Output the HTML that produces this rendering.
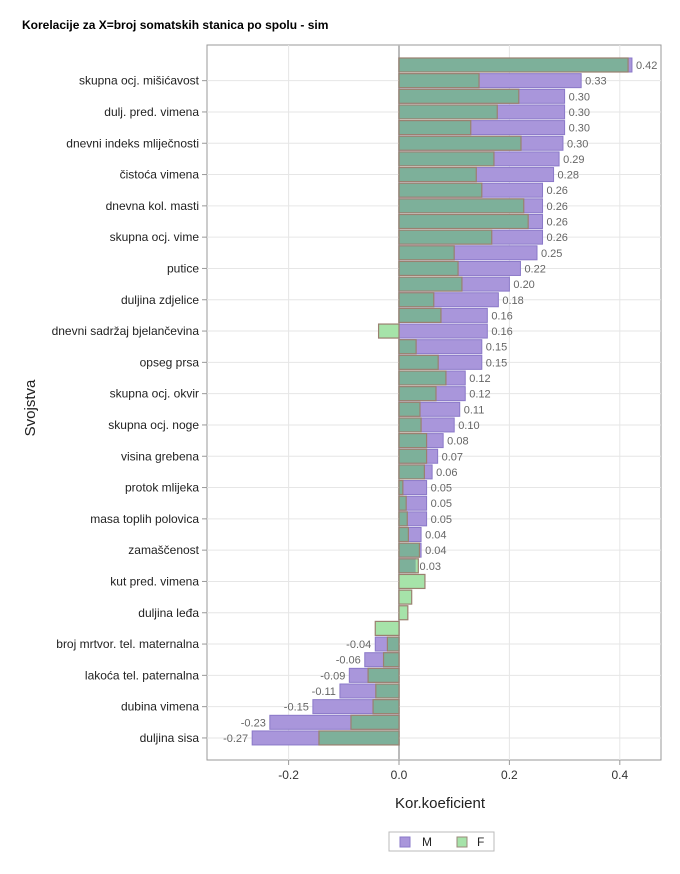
<!DOCTYPE html>
<html><head><meta charset="utf-8"><style>
body{margin:0;background:#fff;}
svg text{font-family:"Liberation Sans",Arial,sans-serif;}
</style></head><body>
<svg width="680" height="869" xmlns="http://www.w3.org/2000/svg">
<text x="22" y="29" font-size="12" font-weight="bold" fill="#000">Korelacije za X=broj somatskih stanica po spolu - sim</text>
<g id="plot"></g>
<text transform="translate(35,408) rotate(-90)" text-anchor="middle" font-size="15" fill="#222">Svojstva</text>
<text x="440" y="808" text-anchor="middle" font-size="15" fill="#222">Kor.koeficient</text>
<g>
<rect x="389" y="832" width="105" height="19" fill="#fff" stroke="#bbb"/>
<rect x="400" y="837" width="10" height="10" fill="#a996db" stroke="#8a78c8"/>
<text x="422" y="846" font-size="12" fill="#222">M</text>
<rect x="457" y="837" width="10" height="10" fill="#a6e3a9" stroke="#9a8a7a"/>
<text x="477" y="846" font-size="12" fill="#222">F</text>
</g>
</svg>
<script>
const labels=["skupna ocj. mišićavost","dulj. pred. vimena","dnevni indeks mliječnosti","čistoća vimena","dnevna kol. masti","skupna ocj. vime","putice","duljina zdjelice","dnevni sadržaj bjelančevina","opseg prsa","skupna ocj. okvir","skupna ocj. noge","visina grebena","protok mlijeka","masa toplih polovica","zamaščenost","kut pred. vimena","duljina leđa","broj mrtvor. tel. maternalna","lakoća tel. paternalna","dubina vimena","duljina sisa"];
const mValues=[0.422,0.33,0.30,0.30,0.30,0.297,0.29,0.28,0.26,0.26,0.26,0.26,0.25,0.22,0.20,0.18,0.16,0.16,0.15,0.15,0.12,0.12,0.11,0.10,0.08,0.07,0.06,0.05,0.05,0.05,0.04,0.04,0.03,0,0,0,0,-0.043,-0.062,-0.09,-0.107,-0.156,-0.234,-0.266];
const fValues=[0.415,0.145,0.217,0.178,0.13,0.221,0.172,0.14,0.15,0.226,0.234,0.168,0.1,0.107,0.114,0.063,0.076,-0.037,0.031,0.071,0.085,0.067,0.038,0.04,0.05,0.05,0.046,0.007,0.013,0.015,0.017,0.037,0.035,0.047,0.023,0.016,-0.043,-0.021,-0.028,-0.056,-0.042,-0.047,-0.087,-0.145];
const mLabels=["0.42","0.33","0.30","0.30","0.30","0.30","0.29","0.28","0.26","0.26","0.26","0.26","0.25","0.22","0.20","0.18","0.16","0.16","0.15","0.15","0.12","0.12","0.11","0.10","0.08","0.07","0.06","0.05","0.05","0.05","0.04","0.04","0.03","","","","","-0.04","-0.06","-0.09","-0.11","-0.15","-0.23","-0.27"];
const xTicks=[-0.2,0,0.2,0.4];
const xTickLabels=["-0.2","0.0","0.2","0.4"];
const NS="http://www.w3.org/2000/svg";
const L=207,R=661,T=45,B=760;
const x=v=>399+v*552;
const y=i=>65+i*15.65;
const g=document.getElementById('plot');
function mk(t,a,p){const e=document.createElementNS(NS,t);for(const k in a)e.setAttribute(k,a[k]);(p||g).appendChild(e);return e;}
const frame=mk('rect',{x:L,y:T,width:R-L,height:B-T,fill:'#fff',stroke:'#999'});


xTicks.forEach((t,i)=>{
 const gl=mk('line',{x1:x(t),x2:x(t),y1:T,y2:B,stroke:t===0?'#bbb':'#e6e6e6','stroke-width':t===0?2:1});
 
 
 const tk=mk('line',{x1:x(t),x2:x(t),y1:B,y2:B+5,stroke:'#999'});
 
 
 const tl=mk('text',{x:x(t),y:B+19,'text-anchor':'middle','font-size':12,fill:'#333'});
 tl.textContent=xTickLabels[i];
 
 
});
labels.forEach((lab,k)=>{
 const i=2*k+1;
 const gl=mk('line',{x1:L,x2:R,y1:y(i),y2:y(i),stroke:'#e6e6e6'});
 
 
 const tk=mk('line',{x1:L-5,x2:L,y1:y(i),y2:y(i),stroke:'#999'});
 
 
 const t=mk('text',{x:L-8,y:y(i)+4,'text-anchor':'end','font-size':12,fill:'#222'});
 t.textContent=lab;
 
 
});
const h=14;
mValues.forEach((v,i)=>{
 if(v!==0){
 const r=mk('rect',{x:Math.min(x(0),x(v)),y:y(i)-h/2,width:Math.abs(x(v)-x(0)),height:h,fill:'#a996db',stroke:'#8a78c8'});
 
 }
 const f=fValues[i];
 const same=(f>=0)===(v>=0);
 const ov=same?Math.min(Math.abs(f),Math.abs(v)):0;
 const sign=f>=0?1:-1;
 if(Math.abs(f)>ov){
  const a=x(sign*ov),b=x(f);
  const r2=mk('rect',{x:Math.min(a,b),y:y(i)-h/2,width:Math.abs(b-a),height:h,fill:'#a6e3a9',stroke:'none'});
  
  
 }
 if(ov>0){
  const r3=mk('rect',{x:Math.min(x(0),x(sign*ov)),y:y(i)-h/2,width:x(ov)-x(0),height:h,fill:'#7db09a',stroke:'none'});
  
  
 }
 const fo=mk('rect',{x:Math.min(x(0),x(f)),y:y(i)-h/2,width:Math.abs(x(f)-x(0)),height:h,fill:'none',stroke:'#9a8070','stroke-width':1.2});
 
 
 if(mLabels[i]){
  const t=mk('text',{x:v>=0?x(v)+4:x(v)-4,y:y(i)+4,'text-anchor':v>=0?'start':'end','font-size':11,fill:'#666'});
  t.textContent=mLabels[i];
  
  
 }
});
</script>
</body></html>
